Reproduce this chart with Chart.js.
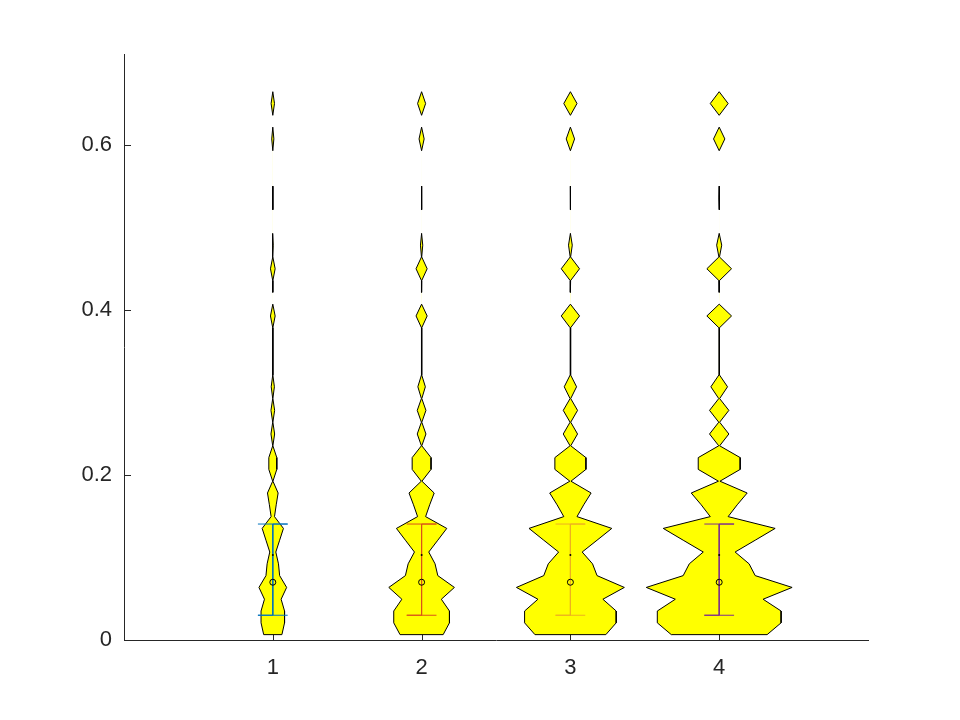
<!DOCTYPE html>
<html>
<head>
<meta charset="utf-8">
<script src="https://cdn.jsdelivr.net/npm/chart.js@4.4.1/dist/chart.umd.min.js"></script>
<style>
  html, body { margin: 0; padding: 0; background: #fff; }
  #wrap { width: 960px; height: 720px; }
</style>
</head>
<body>
<div id="wrap"><canvas id="chart" width="960" height="720"></canvas></div>
<script>
const categories = [1, 2, 3, 4];
const xTicks = [1, 2, 3, 4];
const yTicks = [0, 0.2, 0.4, 0.6];

// y values where the density was sampled (shared by all violins)
const gridY = [
  0.0065, 0.0208, 0.0351, 0.0494, 0.0637, 0.0780, 0.0923, 0.1066, 0.1209, 0.1352,
  0.1495, 0.1638, 0.1781, 0.1924, 0.2067, 0.2210, 0.2353, 0.2496, 0.2639, 0.2782,
  0.2925, 0.3068, 0.3211, 0.3354, 0.3497, 0.3640, 0.3783, 0.3926, 0.4069, 0.4212,
  0.4355, 0.4498, 0.4641, 0.4784, 0.4927, 0.5070, 0.5213, 0.5356, 0.5499, 0.5642,
  0.5785, 0.5928, 0.6071, 0.6214, 0.6357, 0.6500, 0.6643
];
// half width of the widest violin (x units) at each gridY
const density = [
  0.322, 0.416, 0.416, 0.295, 0.490, 0.242, 0.201, 0.107, 0.242, 0.376,
  0.060, 0.121, 0.188, 0.005, 0.141, 0.141, 0.003, 0.065, 0.003, 0.065,
  0.003, 0.056, 0.002, 0.002, 0.002, 0.002, 0.002, 0.083, 0, 0,
  0.002, 0.083, 0.002, 0.017, 0, 0, 0, 0.002, 0, 0,
  0, 0, 0.038, 0, 0, 0.060, 0
];
// relative width of each violin
const violinScale = [0.19, 0.45, 0.74, 1.0];

const q1 = [0.030, 0.030, 0.030, 0.030];
const q3 = [0.1405, 0.1405, 0.1405, 0.1405];
const medians = [0.070, 0.070, 0.070, 0.070];
const means = [0.103, 0.103, 0.103, 0.103];
const statColors = ['#0072BD', '#D95319', '#EDB120', '#7E2F8E'];
const capHalf = 0.1;

const datasets = [];

categories.forEach((c, i) => {
  const s = violinScale[i];
  const pts = [];
  for (let k = 0; k < gridY.length; k++) {
    pts.push({ x: c - density[k] * s, y: gridY[k], w: density[k] });
  }
  for (let k = gridY.length - 1; k >= 0; k--) {
    pts.push({ x: c + density[k] * s, y: gridY[k], w: density[k] });
  }
  pts.push(pts[0]);

  // yellow body
  datasets.push({
    data: pts,
    showLine: true,
    fill: 'shape',
    backgroundColor: '#FFFF00',
    borderColor: 'rgba(0,0,0,0)',
    borderWidth: 0,
    pointRadius: 0,
    order: 4
  });
  // outline, skipping runs where the density is exactly zero
  datasets.push({
    data: pts,
    showLine: true,
    fill: false,
    borderColor: '#000000',
    borderWidth: 1,
    pointRadius: 0,
    order: 3,
    segment: {
      borderColor: ctx => (pts[ctx.p0DataIndex].w === 0 && pts[ctx.p1DataIndex].w === 0) ? 'rgba(0,0,0,0)' : undefined
    }
  });
  // quartile bar with caps
  datasets.push({
    data: [
      { x: c - capHalf, y: q3[i] }, { x: c + capHalf, y: q3[i] }, { x: c, y: q3[i] },
      { x: c, y: q1[i] }, { x: c - capHalf, y: q1[i] }, { x: c + capHalf, y: q1[i] }
    ],
    showLine: true,
    fill: false,
    borderColor: statColors[i],
    borderWidth: 1,
    pointRadius: 0,
    order: 2
  });
});

datasets.push({
  data: categories.map((c, i) => ({ x: c, y: medians[i] })),
  showLine: false,
  pointStyle: 'circle',
  pointRadius: 3,
  pointBorderColor: '#000000',
  pointBackgroundColor: 'rgba(0,0,0,0)',
  pointBorderWidth: 1,
  order: 1
});
datasets.push({
  data: categories.map((c, i) => ({ x: c, y: means[i] })),
  showLine: false,
  pointStyle: 'circle',
  pointRadius: 1,
  pointBorderColor: '#000000',
  pointBackgroundColor: '#000000',
  pointBorderWidth: 0,
  order: 1
});

const inwardTicks = {
  id: 'inwardTicks',
  beforeDatasetsDraw(chart) {
    const { ctx, chartArea, scales: { x, y } } = chart;
    ctx.save();
    ctx.strokeStyle = '#262626';
    ctx.lineWidth = 1;
    ctx.beginPath();
    yTicks.forEach(v => {
      const py = Math.round(y.getPixelForValue(v)) + 0.5;
      ctx.moveTo(chartArea.left, py);
      ctx.lineTo(chartArea.left + 7, py);
    });
    xTicks.forEach(v => {
      const px = Math.round(x.getPixelForValue(v)) + 0.5;
      ctx.moveTo(px, chartArea.bottom);
      ctx.lineTo(px, chartArea.bottom - 7);
    });
    ctx.stroke();
    ctx.restore();
  }
};

const tickFont = { family: '"Liberation Sans", Arial, sans-serif', size: 22 };

new Chart(document.getElementById('chart').getContext('2d'), {
  type: 'scatter',
  data: { datasets },
  options: {
    responsive: false,
    animation: false,
    devicePixelRatio: 1,
    layout: { padding: { left: 0, top: 54, right: 92, bottom: 0 } },
    plugins: { legend: { display: false }, tooltip: { enabled: false } },
    scales: {
      x: {
        type: 'linear',
        min: 0,
        max: 5,
        afterBuildTicks: scale => { scale.ticks = xTicks.map(v => ({ value: v })); },
        afterFit: scale => { scale.height = 80; },
        grid: { display: false, drawTicks: false },
        border: { display: true, color: '#262626', width: 1 },
        ticks: { color: '#262626', font: tickFont, padding: 15, maxRotation: 0 }
      },
      y: {
        type: 'linear',
        min: 0,
        max: 0.71,
        afterBuildTicks: scale => { scale.ticks = yTicks.map(v => ({ value: v })); },
        afterFit: scale => { scale.width = 124; },
        grid: { display: false, drawTicks: false },
        border: { display: true, color: '#262626', width: 1 },
        ticks: { color: '#262626', font: tickFont, padding: 12, callback: v => String(v) }
      }
    }
  },
  plugins: [inwardTicks]
});
</script>
</body>
</html>
